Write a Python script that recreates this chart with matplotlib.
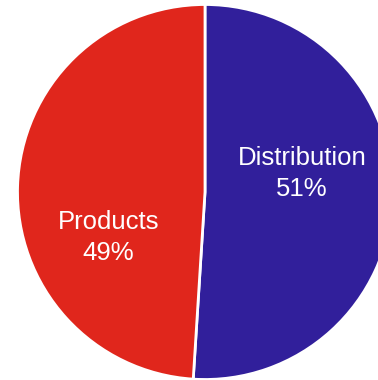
import matplotlib
matplotlib.use("Agg")
import matplotlib.pyplot as plt

# datos del gráfico
categorias = ["Distribution", "Products"]
porcentajes = [51, 49]
colores = ["#311F9B", "#E0261C"]

W, H = 378, 380
fig = plt.figure(figsize=(W / 100, H / 100), dpi=100)
ax = fig.add_axes([0, 0, 1, 1])

# centro y radio en píxeles (eje y hacia arriba)
cx, cy, r = 205, H - 192, 187.5
ax.pie(porcentajes, colors=colores, startangle=90, counterclock=False,
       center=(cx, cy), radius=r, frame=True,
       wedgeprops=dict(edgecolor="white", linewidth=2.0))
ax.set_xlim(0, W)
ax.set_ylim(0, H)
ax.set_aspect("equal")
ax.axis("off")

# posiciones de las etiquetas (x, línea base de la primera línea)
pos_etiquetas = [(302, 165), (108.5, 229)]
for (x, yb), nombre, p in zip(pos_etiquetas, categorias, porcentajes):
    ax.text(x, H - yb, nombre, ha="center", va="baseline", color="white",
            fontsize=18.5, family="Liberation Sans")
    ax.text(x, H - yb - 30.5, f"{p}%", ha="center", va="baseline", color="white",
            fontsize=18.5, family="Liberation Sans")

fig.savefig("out.png", dpi=100)
